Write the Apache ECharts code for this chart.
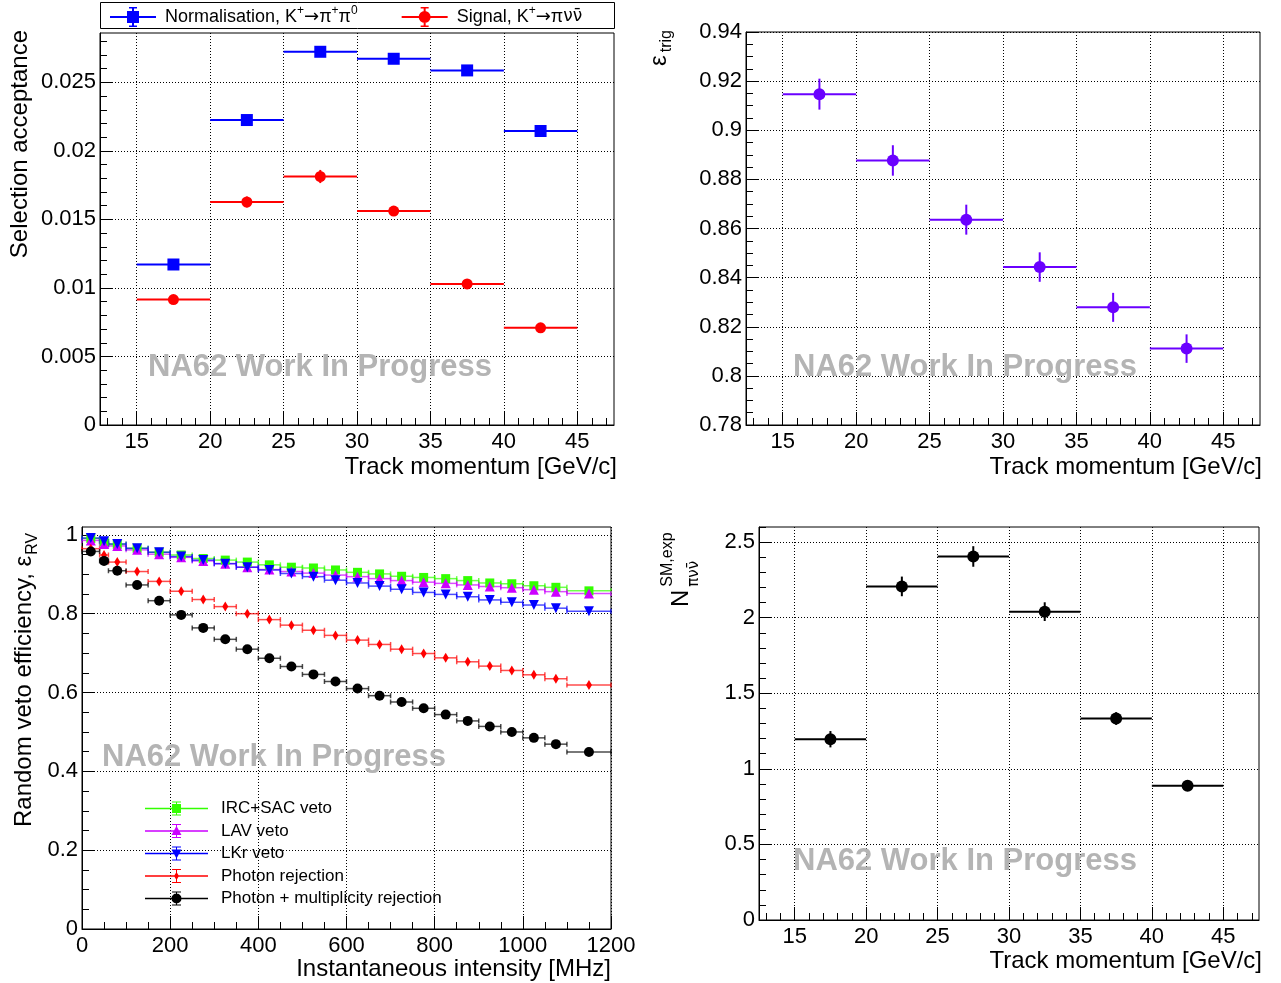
<!DOCTYPE html>
<html><head><meta charset="utf-8">
<script src="https://cdn.jsdelivr.net/npm/echarts@6/dist/echarts.min.js"></script>
<style>html,body{margin:0;padding:0;background:#fff}#c{width:1281px;height:983px}</style>
</head><body><div id="c"></div>
<script>
// ================= DATA =================
// Track momentum bins [GeV/c]
const MOM_LO = [15, 20, 25, 30, 35, 40];
const MOM_HI = [20, 25, 30, 35, 40, 45];
// Top-left: selection acceptance
const ACC_NORM = [0.01171, 0.02225, 0.02723, 0.02672, 0.02587, 0.02145];
const ACC_NORM_ERR = [0.0001, 0.0001, 0.0001, 0.0001, 0.0001, 0.0001];
const ACC_SIG = [0.00915, 0.01627, 0.01813, 0.01561, 0.01029, 0.00709];
const ACC_SIG_ERR = [0.00025, 0.0004, 0.00048, 0.00035, 0.0002, 0.00015];
// Top-right: trigger efficiency
const TRIG_EFF = [0.9147, 0.8877, 0.8636, 0.8443, 0.8279, 0.8111];
const TRIG_EFF_ERR = [0.0063, 0.0062, 0.0061, 0.0060, 0.0059, 0.0058];
// Bottom-right: expected SM events
const NSM = [1.196, 2.207, 2.405, 2.040, 1.333, 0.888];
const NSM_ERR = [0.054, 0.065, 0.068, 0.062, 0.042, 0.02];
// Bottom-left: random veto efficiency vs intensity [MHz]
const RV_EDGES = [0, 40, 60, 100, 150, 200, 250, 300, 350, 400, 450, 500, 550, 600, 650, 700, 750, 800, 850, 900, 950, 1000, 1050, 1100, 1200];
const RV_IRC = [0.991, 0.983, 0.976, 0.966, 0.956, 0.949, 0.940, 0.936, 0.931, 0.924, 0.918, 0.916, 0.911, 0.905, 0.901, 0.895, 0.892, 0.889, 0.884, 0.878, 0.876, 0.871, 0.867, 0.858];
const RV_LAV = [0.986, 0.977, 0.972, 0.962, 0.951, 0.943, 0.934, 0.927, 0.918, 0.912, 0.907, 0.903, 0.898, 0.894, 0.889, 0.884, 0.880, 0.877, 0.873, 0.869, 0.866, 0.861, 0.856, 0.851];
const RV_LKR = [0.992, 0.984, 0.977, 0.966, 0.956, 0.945, 0.936, 0.927, 0.918, 0.911, 0.902, 0.894, 0.885, 0.878, 0.870, 0.862, 0.854, 0.849, 0.843, 0.835, 0.829, 0.822, 0.814, 0.806];
const RV_PHOT = [0.965, 0.949, 0.931, 0.907, 0.882, 0.857, 0.836, 0.818, 0.800, 0.785, 0.771, 0.758, 0.745, 0.733, 0.722, 0.710, 0.699, 0.688, 0.678, 0.667, 0.656, 0.645, 0.635, 0.619];
const RV_PHOTMULT = [0.958, 0.934, 0.909, 0.873, 0.833, 0.797, 0.764, 0.735, 0.710, 0.687, 0.666, 0.646, 0.628, 0.610, 0.592, 0.576, 0.560, 0.544, 0.528, 0.514, 0.500, 0.485, 0.469, 0.449];
const RV_ERR = [0.003, 0.003, 0.003, 0.003, 0.003, 0.003, 0.003, 0.003, 0.003, 0.003, 0.003, 0.003, 0.003, 0.003, 0.003, 0.003, 0.003, 0.003, 0.003, 0.003, 0.003, 0.003, 0.003, 0.003];
// Tick labels
const MOM_TICKS = [15, 20, 25, 30, 35, 40, 45];
const ACC_TICKS = [0, 0.005, 0.01, 0.015, 0.02, 0.025];
const TRIG_TICKS = [0.78, 0.8, 0.82, 0.84, 0.86, 0.88, 0.9, 0.92, 0.94];
const INT_TICKS = [0, 200, 400, 600, 800, 1000, 1200];
const RV_TICKS = [0, 0.2, 0.4, 0.6, 0.8, 1];
const NSM_TICKS = [0, 0.5, 1, 1.5, 2, 2.5];
// Legend labels
const TL_NAMES = ['Normalisation', 'Signal'];
const TL_LABELS = ['Normalisation, K{sup|+}{arr|\u2192}\u03c0{sup|+}\u03c0{sup|0}', 'Signal, K{sup|+}{arr|\u2192}\u03c0{nu|\u03bd\u03bd\u0304}'];
const BL_NAMES = ['IRC+SAC veto', 'LAV veto', 'LKr veto', 'Photon rejection', 'Photon + multiplicity rejection'];

// ================= HELPERS =================
const FONT = 'Liberation Sans, Arial, Helvetica, sans-serif';
const mctx = document.createElement('canvas').getContext('2d');
function tw(t, size, weight) { mctx.font = (weight || 'normal') + ' ' + size + 'px ' + FONT; return mctx.measureText(t).width; }
function steps(min, max, step) {
  const out = [];
  for (let k = Math.ceil(min / step - 1e-9); k * step <= max + 1e-9; k++) out.push(+(k * step).toFixed(6));
  return out;
}
function fmt(v) { return String(+(+v).toFixed(6)); }

function axisPair(kind, gridIndex, min, max, majors, minorStep, margin) {
  const pos = kind === 'x' ? 'bottom' : 'left';
  const major = {
    type: 'value', gridIndex, min, max, position: pos,
    axisLine: { show: true, onZero: false, lineStyle: { color: '#000', width: 1 } },
    axisTick: { show: true, inside: true, length: 13, customValues: majors, lineStyle: { color: '#000', width: 1 } },
    axisLabel: { show: true, customValues: majors, margin, fontSize: 22, fontFamily: FONT, color: '#000', formatter: fmt, hideOverlap: false },
    splitLine: { show: true, lineStyle: { color: '#000', type: [1, 2], width: 1 } },
    minorTick: { show: false }, minorSplitLine: { show: false }
  };
  const minor = {
    type: 'value', gridIndex, min, max, position: pos,
    axisLine: { show: false, onZero: false },
    axisTick: { show: true, inside: true, length: 7, customValues: steps(min, max, minorStep), lineStyle: { color: '#000', width: 1 } },
    axisLabel: { show: false },
    splitLine: { show: false }
  };
  return [major, minor];
}

function errSeries(name, gi, rows, color, lw, opacity, cap) {
  return {
    type: 'custom', name, xAxisIndex: 2 * gi, yAxisIndex: 2 * gi, data: rows, z: 3, silent: true,
    itemStyle: { color },
    renderItem: function (params, api) {
      const x = api.value(0), y = api.value(1), xl = api.value(2), xh = api.value(3), e = api.value(4);
      const a = api.coord([xl, y]), b = api.coord([xh, y]);
      const lo = api.coord([x, y - e]), hi = api.coord([x, y + e]);
      const st = { stroke: color, lineWidth: lw, opacity };
      const ch = [
        { type: 'line', shape: { x1: a[0], y1: a[1], x2: b[0], y2: b[1] }, style: st },
        { type: 'line', shape: { x1: lo[0], y1: lo[1], x2: hi[0], y2: hi[1] }, style: st }
      ];
      if (cap) {
        ch.push({ type: 'line', shape: { x1: a[0], y1: a[1] - cap, x2: a[0], y2: a[1] + cap }, style: st });
        ch.push({ type: 'line', shape: { x1: b[0], y1: b[1] - cap, x2: b[0], y2: b[1] + cap }, style: st });
      }
      return { type: 'group', children: ch };
    }
  };
}
function markSeries(name, gi, rows, color, symbol, size, rotate) {
  return {
    type: 'scatter', name, xAxisIndex: 2 * gi, yAxisIndex: 2 * gi, z: 5, silent: true,
    data: rows.map(r => [r[0], r[1]]), symbol, symbolSize: size, symbolRotate: rotate || 0,
    itemStyle: { color, opacity: 1 }, emphasis: { disabled: true }
  };
}
function momRows(vals, errs) { return vals.map((v, i) => [(MOM_LO[i] + MOM_HI[i]) / 2, v, MOM_LO[i], MOM_HI[i], errs[i]]); }
function rvRows(vals) { return vals.map((v, i) => [(RV_EDGES[i] + RV_EDGES[i + 1]) / 2, v, RV_EDGES[i], RV_EDGES[i + 1], RV_ERR[i]]); }

// legend icon paths
const R = (x0, y0, x1, y1) => `M${x0} ${y0} L${x1} ${y0} L${x1} ${y1} L${x0} ${y1} Z `;
const CIRC = (cx, cy, r) => `M${cx - r} ${cy} A${r} ${r} 0 1 1 ${cx + r} ${cy} A${r} ${r} 0 1 1 ${cx - r} ${cy} Z `;
const TL_BASE = R(0, 9, 46, 11) + R(22, 0, 24, 20) + R(19, 0, 27, 1.5) + R(19, 18.5, 27, 20);
const TL_ICONS = ['path://' + TL_BASE + R(17, 4, 29, 16), 'path://' + TL_BASE + CIRC(23, 10, 6)];
const BL_BASE = R(0, 6.25, 63, 7.75) + R(31, 0, 32, 14) + R(27, 0, 36, 1) + R(27, 13, 36, 14);
const BL_ICONS = [
  'path://' + BL_BASE + R(27, 2.5, 36, 11.5),
  'path://' + BL_BASE + 'M31.5 2 L36.5 11 L26.5 11 Z ',
  'path://' + BL_BASE + 'M26.5 3 L36.5 3 L31.5 12 Z ',
  'path://' + BL_BASE + 'M31.5 3 L34 7 L31.5 11 L29 7 Z ',
  'path://' + BL_BASE + CIRC(31.5, 7, 5)
];

// ================= LAYOUT =================
const grids = [
  { left: 100, top: 33, width: 514, height: 392 },   // TL
  { left: 746, top: 32, width: 514, height: 393 },   // TR
  { left: 82, top: 527, width: 529, height: 402 },   // BL
  { left: 759, top: 527, width: 500, height: 393 }   // BR
].map(g => Object.assign(g, { show: true, borderColor: '#000', borderWidth: 1, backgroundColor: 'transparent', outerBoundsMode: 'none', containLabel: false }));

const xAxis = [].concat(
  axisPair('x', 0, 12.5, 47.5, MOM_TICKS, 1, 6),
  axisPair('x', 1, 12.5, 47.5, MOM_TICKS, 1, 6),
  axisPair('x', 2, 0, 1200, INT_TICKS, 50, 6),
  axisPair('x', 3, 12.5, 47.5, MOM_TICKS, 1, 6)
);
const yAxis = [].concat(
  axisPair('y', 0, 0, 0.0286, ACC_TICKS, 0.001, 4),
  axisPair('y', 1, 0.78, 0.94, TRIG_TICKS, 0.005, 4),
  axisPair('y', 2, 0, 1.02, RV_TICKS, 0.05, 4),
  axisPair('y', 3, 0, 2.6, NSM_TICKS, 0.1, 4)
);

const colors = { norm: '#0000ff', sig: '#ff0000', trig: '#6a00ff', nsm: '#000000',
  irc: '#33ff00', lav: '#cc00ff', lkr: '#0000ff', phot: '#ff0000', pm: '#000000' };

const series = [
  markSeries(TL_NAMES[0], 0, momRows(ACC_NORM, ACC_NORM_ERR), colors.norm, 'rect', 12),
  errSeries(TL_NAMES[0], 0, momRows(ACC_NORM, ACC_NORM_ERR), colors.norm, 2, 1, 0),
  markSeries(TL_NAMES[1], 0, momRows(ACC_SIG, ACC_SIG_ERR), colors.sig, 'circle', 11),
  errSeries(TL_NAMES[1], 0, momRows(ACC_SIG, ACC_SIG_ERR), colors.sig, 2, 1, 0),
  markSeries('trig', 1, momRows(TRIG_EFF, TRIG_EFF_ERR), colors.trig, 'circle', 12),
  errSeries('trig', 1, momRows(TRIG_EFF, TRIG_EFF_ERR), colors.trig, 2, 1, 0),
  markSeries(BL_NAMES[0], 2, rvRows(RV_IRC), colors.irc, 'rect', 9),
  errSeries(BL_NAMES[0], 2, rvRows(RV_IRC), colors.irc, 1.5, 0.7, 2.5),
  markSeries(BL_NAMES[1], 2, rvRows(RV_LAV), colors.lav, 'triangle', 10),
  errSeries(BL_NAMES[1], 2, rvRows(RV_LAV), colors.lav, 1.5, 0.7, 2.5),
  markSeries(BL_NAMES[2], 2, rvRows(RV_LKR), colors.lkr, 'triangle', 10, 180),
  errSeries(BL_NAMES[2], 2, rvRows(RV_LKR), colors.lkr, 1.5, 0.7, 2.5),
  markSeries(BL_NAMES[3], 2, rvRows(RV_PHOT), colors.phot, 'diamond', [6, 10]),
  errSeries(BL_NAMES[3], 2, rvRows(RV_PHOT), colors.phot, 1.5, 0.7, 2.5),
  markSeries(BL_NAMES[4], 2, rvRows(RV_PHOTMULT), colors.pm, 'circle', 10),
  errSeries(BL_NAMES[4], 2, rvRows(RV_PHOTMULT), colors.pm, 1.5, 0.7, 2.5),
  markSeries('nsm', 3, momRows(NSM, NSM_ERR), colors.nsm, 'circle', 12),
  errSeries('nsm', 3, momRows(NSM, NSM_ERR), colors.nsm, 2, 1, 0)
];

const legend = [
  {
    left: 110, top: 5, orient: 'horizontal', itemWidth: 46, itemHeight: 20, itemGap: 44, padding: 0,
    selectedMode: false, symbolKeepAspect: true,
    data: TL_NAMES.map((n, i) => ({ name: n, icon: TL_ICONS[i] })),
    formatter: name => TL_LABELS[TL_NAMES.indexOf(name)],
    textStyle: { fontSize: 18, fontFamily: FONT, color: '#000', lineHeight: 24, padding: [0, 0, 0, 4],
      rich: {
        sup: { fontSize: 12, lineHeight: 12, verticalAlign: 'top', fontFamily: FONT, color: '#000' },
        arr: { fontSize: 18, fontFamily: 'DejaVu Sans', color: '#000' },
        nu: { fontSize: 17, fontFamily: 'DejaVu Sans', color: '#000' }
      } }
  },
  {
    left: 145, top: 800, orient: 'vertical', itemWidth: 63, itemHeight: 14, itemGap: 5.5, padding: 0,
    selectedMode: false, symbolKeepAspect: true,
    data: BL_NAMES.map((n, i) => ({ name: n, icon: BL_ICONS[i] })),
    textStyle: { fontSize: 17, fontFamily: FONT, color: '#000', padding: [0, 0, 0, 8] }
  }
];

// ================= TEXT DECORATIONS =================
const WM = 'NA62 Work In Progress';
const wmStyle = { text: WM, fontSize: 31, fontWeight: 'bold', fontFamily: FONT, fill: '#b4b4b4', align: 'left', verticalAlign: 'middle' };
function txt(x, y, text, size, align, extra) {
  return Object.assign({ type: 'text', x, y, style: Object.assign({ text, fontSize: size, fontFamily: FONT, fill: '#000', align: align || 'left', verticalAlign: 'middle' }, extra || {}) });
}
const ROT = Math.PI / 2;
const graphic = [
  { type: 'rect', z: 50, shape: { x: 100.5, y: 2.5, width: 514, height: 26 }, style: { fill: 'none', stroke: '#000', lineWidth: 1 } },
  { type: 'text', z: 60, x: 148, y: 367, style: wmStyle },
  { type: 'text', z: 60, x: 793, y: 367, style: wmStyle },
  { type: 'text', z: 60, x: 102, y: 757, style: wmStyle },
  { type: 'text', z: 60, x: 793, y: 861, style: wmStyle },
  // x titles
  txt(617, 467, 'Track momentum [GeV/c]', 24, 'right'),
  txt(1262, 467, 'Track momentum [GeV/c]', 24, 'right'),
  txt(611, 969, 'Instantaneous intensity [MHz]', 24, 'right'),
  txt(1262, 961, 'Track momentum [GeV/c]', 24, 'right'),
  // y titles
  { type: 'group', x: 20, y: 30, rotation: ROT, children: [txt(0, 0, 'Selection acceptance', 24, 'right')] },
  { type: 'group', x: 659.5, y: 66, rotation: ROT, children: [
    txt(0, 0, '\u03b5', 24, 'left'),
    txt(tw('\u03b5', 24) + 3, 7, 'trig', 16, 'left')
  ] },
  { type: 'group', x: 24.6, y: 827, rotation: ROT, children: [
    txt(0, 0, 'Random veto efficiency, \u03b5', 24, 'left'),
    txt(tw('Random veto efficiency, \u03b5', 24) + 1, 8, 'RV', 16, 'left')
  ] },
  { type: 'group', x: 681.6, y: 607, rotation: ROT, children: [
    txt(0, 0, 'N', 24, 'left'),
    txt(tw('N', 24) + 3, -14, 'SM,exp', 16, 'left'),
    txt(tw('N', 24) + 3, 12.8, '\u03c0\u03bd\u03bd\u0304', 15, 'left', { fontFamily: 'DejaVu Sans' })
  ] }
];

const chart = echarts.init(document.getElementById('c'), null, { renderer: 'canvas' });
chart.setOption({
  animation: false,
  backgroundColor: '#ffffff',
  grid: grids, xAxis, yAxis, series, legend, graphic
});
</script></body></html>
